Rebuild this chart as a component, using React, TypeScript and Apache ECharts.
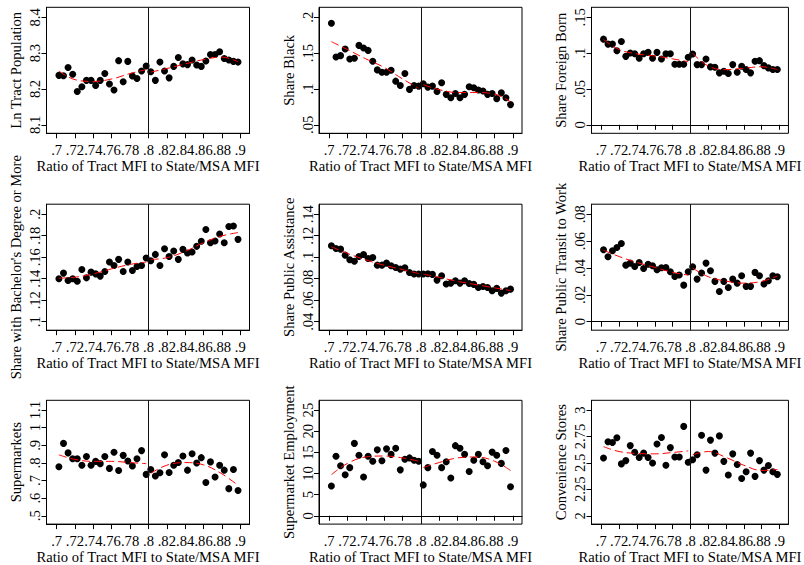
import React, { useEffect, useRef } from "react";
import * as echarts from "echarts";

// Bin centers of the running variable (ratio of tract MFI to State/MSA MFI)
const binCenters = [
  0.7025, 0.7075, 0.7125, 0.7175, 0.7225, 0.7275, 0.7325, 0.7375, 0.7425, 0.7475,
  0.7525, 0.7575, 0.7625, 0.7675, 0.7725, 0.7775, 0.7825, 0.7875, 0.7925, 0.7975,
  0.8025, 0.8075, 0.8125, 0.8175, 0.8225, 0.8275, 0.8325, 0.8375, 0.8425, 0.8475,
  0.8525, 0.8575, 0.8625, 0.8675, 0.8725, 0.8775, 0.8825, 0.8875, 0.8925, 0.8975,
];
const xTicks = [0.7, 0.72, 0.74, 0.76, 0.78, 0.8, 0.82, 0.84, 0.86, 0.88, 0.9];
const cutoff = 0.8;
const fitXLeft = [0.7025, 0.72, 0.74, 0.76, 0.78, 0.7975];
const fitXRight = [0.8025, 0.82, 0.84, 0.86, 0.88, 0.8975];
const xTitle = "Ratio of Tract MFI to State/MSA MFI";

// Panel 1: Ln Tract Population
const lnPop = [8.238, 8.237, 8.26, 8.241, 8.193, 8.206, 8.224, 8.224, 8.21, 8.224, 8.243, 8.214, 8.197, 8.279, 8.22, 8.277, 8.236, 8.229, 8.25, 8.264,
  8.248, 8.224, 8.275, 8.25, 8.231, 8.263, 8.288, 8.27, 8.268, 8.281, 8.267, 8.263, 8.278, 8.296, 8.296, 8.304, 8.285, 8.281, 8.277, 8.275];
const lnPopFitL = [8.25, 8.226, 8.221, 8.228, 8.243, 8.254];
const lnPopFitR = [8.247, 8.257, 8.27, 8.282, 8.289, 8.276];
const lnPopTicks = [8.1, 8.2, 8.3, 8.4];

// Panel 2: Share Black
const shareBlack = [0.1917, 0.1446, 0.1465, 0.1557, 0.1418, 0.1428, 0.1608, 0.1571, 0.1538, 0.1386, 0.1266, 0.1234, 0.1234, 0.1262, 0.1109, 0.1049, 0.1215, 0.0994, 0.1049, 0.104,
  0.1072, 0.1026, 0.104, 0.0966, 0.1086, 0.0925, 0.0878, 0.0938, 0.0878, 0.0925, 0.1031, 0.1017, 0.0985, 0.0971, 0.0925, 0.0938, 0.0865, 0.0948, 0.0878, 0.0782];
const shareBlackFitL = [0.166, 0.155, 0.142, 0.13, 0.114, 0.101];
const shareBlackFitR = [0.106, 0.099, 0.095, 0.095, 0.093, 0.082];
const shareBlackTicks = [0.05, 0.1, 0.15, 0.2];

// Panel 3: Share Foreign Born
const foreignBorn = [0.1195, 0.1126, 0.1126, 0.1034, 0.1163, 0.0955, 0.1002, 0.0992, 0.0928, 0.0992, 0.1011, 0.0928, 0.1011, 0.0918, 0.0992, 0.0992, 0.0845, 0.0845, 0.0845, 0.0942,
  0.0988, 0.084, 0.084, 0.0918, 0.0808, 0.0803, 0.0725, 0.0748, 0.0715, 0.084, 0.0734, 0.0817, 0.0771, 0.0725, 0.0886, 0.0895, 0.0826, 0.0794, 0.0771, 0.0771];
const foreignBornFitL = [0.119, 0.105, 0.099, 0.096, 0.092, 0.088];
const foreignBornFitR = [0.1, 0.082, 0.077, 0.079, 0.081, 0.077];
const foreignBornTicks = [0, 0.05, 0.1, 0.15];

// Panel 4: Share with Bachelor's Degree or More
const bachelor = [0.1399, 0.1452, 0.1383, 0.1399, 0.1377, 0.1486, 0.1408, 0.1461, 0.1445, 0.1424, 0.1467, 0.1555, 0.1523, 0.158, 0.1467, 0.1555, 0.1477, 0.1514, 0.1523, 0.1592,
  0.1567, 0.1626, 0.1523, 0.1679, 0.1607, 0.1657, 0.158, 0.1673, 0.1639, 0.1648, 0.1701, 0.1748, 0.1857, 0.1735, 0.1751, 0.1816, 0.1735, 0.1885, 0.1891, 0.1766];
const bachelorFitL = [0.1405, 0.1414, 0.1445, 0.1492, 0.1533, 0.1555];
const bachelorFitR = [0.1579, 0.1595, 0.1654, 0.1735, 0.1798, 0.1829];
const bachelorTicks = [0.1, 0.12, 0.14, 0.16, 0.18, 0.2];

// Panel 5: Share Public Assistance
const publicAssist = [0.1106, 0.1081, 0.1075, 0.1019, 0.0976, 0.0963, 0.1007, 0.1025, 0.0988, 0.0998, 0.0926, 0.0926, 0.0945, 0.092, 0.0905, 0.0889, 0.0902, 0.0858, 0.0843, 0.0843,
  0.0843, 0.0846, 0.084, 0.0787, 0.0827, 0.075, 0.0759, 0.0781, 0.0759, 0.0781, 0.0756, 0.0747, 0.0719, 0.0728, 0.0719, 0.0688, 0.071, 0.0666, 0.0688, 0.0703];
const publicAssistFitL = [0.1097, 0.1035, 0.0975, 0.0925, 0.0885, 0.0848];
const publicAssistFitR = [0.0843, 0.0812, 0.0775, 0.0745, 0.0715, 0.069];
const publicAssistTicks = [0.04, 0.06, 0.08, 0.1, 0.12, 0.14];

// Panel 6: Share Public Transit to Work
const transit = [0.0535, 0.0483, 0.0528, 0.0552, 0.0582, 0.0421, 0.0436, 0.0411, 0.0441, 0.0396, 0.0428, 0.0416, 0.0386, 0.0401, 0.0404, 0.0372, 0.0337, 0.0347, 0.0272, 0.0372,
  0.0409, 0.0317, 0.0362, 0.0436, 0.0379, 0.03, 0.0225, 0.03, 0.0255, 0.0317, 0.0287, 0.0342, 0.0263, 0.0263, 0.0367, 0.0342, 0.028, 0.0305, 0.0342, 0.0334];
const transitFitL = [0.0532, 0.0485, 0.0441, 0.0404, 0.0367, 0.0347];
const transitFitR = [0.0399, 0.0335, 0.0302, 0.0287, 0.03, 0.034];
const transitTicks = [0, 0.02, 0.04, 0.06, 0.08];

// Panel 7: Supermarkets
const supermarkets = [0.778, 0.911, 0.857, 0.824, 0.824, 0.787, 0.837, 0.787, 0.809, 0.796, 0.837, 0.769, 0.861, 0.757, 0.843, 0.811, 0.783, 0.824, 0.87, 0.735,
  0.763, 0.726, 0.744, 0.846, 0.746, 0.787, 0.802, 0.839, 0.759, 0.852, 0.8, 0.83, 0.689, 0.806, 0.72, 0.787, 0.759, 0.654, 0.763, 0.643];
const supermarketsFitL = [0.846, 0.82, 0.809, 0.809, 0.802, 0.796];
const supermarketsFitR = [0.741, 0.787, 0.802, 0.789, 0.738, 0.672];
const supermarketsTicks = [0.5, 0.6, 0.7, 0.8, 0.9, 1, 1.1];

// Panel 8: Supermarket Employment
const smEmployment = [7.03, 14.07, 11.85, 9.71, 11.39, 17.13, 14.3, 9.17, 14.07, 12.92, 15.6, 13.0, 15.83, 14.53, 15.98, 10.86, 13.38, 13.69, 13.15, 12.92,
  7.3, 11.39, 15.21, 14.3, 11.39, 12.77, 8.94, 16.59, 15.98, 14.53, 10.47, 13.15, 14.53, 12.77, 11.85, 15.06, 14.3, 12.39, 15.44, 6.88];
const smEmploymentFitL = [9.71, 12.39, 13.91, 14.14, 13.69, 12.92];
const smEmploymentFitR = [11.39, 12.61, 13.69, 13.91, 12.92, 10.7];
const smEmploymentTicks = [0, 5, 10, 15, 20, 25];

// Panel 9: Convenience Stores
const convenience = [2.546, 2.701, 2.694, 2.738, 2.491, 2.522, 2.664, 2.602, 2.552, 2.593, 2.552, 2.5, 2.679, 2.741, 2.478, 2.645, 2.556, 2.556, 2.846, 2.506,
  2.531, 2.577, 2.762, 2.432, 2.716, 2.593, 2.756, 2.515, 2.386, 2.586, 2.485, 2.352, 2.417, 2.593, 2.373, 2.522, 2.432, 2.475, 2.417, 2.392];
const convenienceFitL = [2.654, 2.608, 2.59, 2.586, 2.599, 2.614];
const convenienceFitR = [2.577, 2.608, 2.552, 2.478, 2.429, 2.438];
const convenienceTicks = [2, 2.25, 2.5, 2.75, 3];

const panels = [
  { title: "Ln Tract Population", values: lnPop, fitL: lnPopFitL, fitR: lnPopFitR, ticks: lnPopTicks },
  { title: "Share Black", values: shareBlack, fitL: shareBlackFitL, fitR: shareBlackFitR, ticks: shareBlackTicks },
  { title: "Share Foreign Born", values: foreignBorn, fitL: foreignBornFitL, fitR: foreignBornFitR, ticks: foreignBornTicks },
  { title: "Share with Bachelor's Degree or More", values: bachelor, fitL: bachelorFitL, fitR: bachelorFitR, ticks: bachelorTicks },
  { title: "Share Public Assistance", values: publicAssist, fitL: publicAssistFitL, fitR: publicAssistFitR, ticks: publicAssistTicks },
  { title: "Share Public Transit to Work", values: transit, fitL: transitFitL, fitR: transitFitR, ticks: transitTicks },
  { title: "Supermarkets", values: supermarkets, fitL: supermarketsFitL, fitR: supermarketsFitR, ticks: supermarketsTicks },
  { title: "Supermarket Employment", values: smEmployment, fitL: smEmploymentFitL, fitR: smEmploymentFitR, ticks: smEmploymentTicks },
  { title: "Convenience Stores", values: convenience, fitL: convenienceFitL, fitR: convenienceFitR, ticks: convenienceTicks },
];

const FONT = "Liberation Serif";
const FS = 14.6;
const colLeft = [46.5, 319, 591.5];
const rowTop = [7.3, 204.2, 400.3];
const gridW = 203;
const gridH = 126;

const fmt = (v: number) => {
  let s = String(parseFloat(v.toFixed(4)));
  if (s.startsWith("0.")) s = s.slice(1);
  else if (s.startsWith("-0.")) s = "-" + s.slice(2);
  return s;
};

function buildOption() {
  const grid: any[] = [];
  const xAxis: any[] = [];
  const yAxis: any[] = [];
  const series: any[] = [];
  panels.forEach((p, i) => {
    const col = i % 3;
    const row = Math.floor(i / 3);
    grid.push({
      left: colLeft[col], top: rowTop[row], width: gridW, height: gridH,
      show: true, borderColor: "#000", borderWidth: 1, backgroundColor: "#fff",
    });
    const lo = p.ticks[0];
    const hi = p.ticks[p.ticks.length - 1];
    const span = hi - lo;
    const ymin = lo - span * 0.079;
    const ymax = hi + span * 0.093;
    xAxis.push({
      gridIndex: i, type: "value", min: 0.689, max: 0.91,
      axisLine: { show: true, lineStyle: { color: "#000", width: 1 } },
      splitLine: { show: false },
      axisTick: { show: true, length: 5, inside: false, customValues: xTicks, lineStyle: { color: "#000", width: 1 } },
      axisLabel: { customValues: xTicks, formatter: fmt, fontFamily: FONT, fontSize: FS, color: "#000", margin: 9 },
      name: xTitle, nameLocation: "middle", nameGap: 24,
      nameTextStyle: { fontFamily: FONT, fontSize: FS, color: "#000" },
    });
    yAxis.push({
      gridIndex: i, type: "value", min: ymin, max: ymax,
      axisLine: { show: true, lineStyle: { color: "#000", width: 1 } },
      splitLine: { show: false },
      axisTick: { show: true, length: 5, inside: false, customValues: p.ticks, lineStyle: { color: "#000", width: 1 } },
      axisLabel: { customValues: p.ticks, formatter: fmt, rotate: 90, fontFamily: FONT, fontSize: FS, color: "#000", margin: 4 },
      name: p.title, nameLocation: "middle", nameGap: 23, nameRotate: 90,
      nameTextStyle: { fontFamily: FONT, fontSize: FS, color: "#000" },
    });
    series.push({
      type: "scatter", xAxisIndex: i, yAxisIndex: i,
      data: binCenters.map((x, k) => [x, p.values[k]]),
      symbol: "circle", symbolSize: 7,
      itemStyle: { color: "#000", opacity: 1 },
      markLine: {
        silent: true, symbol: "none", label: { show: false },
        lineStyle: { color: "#111", width: 1, type: "solid", opacity: 1 },
        data: [{ xAxis: cutoff }],
      },
      z: 2,
    });
    [[fitXLeft, p.fitL], [fitXRight, p.fitR]].forEach(([xs, ys]) => {
      series.push({
        type: "line", xAxisIndex: i, yAxisIndex: i,
        data: (xs as number[]).map((x, k) => [x, (ys as number[])[k]]),
        smooth: 0.4, showSymbol: false, symbol: "none",
        lineStyle: { color: "#ff0000", width: 1, type: [8, 4] },
        z: 3,
      });
    });
  });
  return { animation: false, backgroundColor: "#fff", grid, xAxis, yAxis, series };
}

export default function App() {
  const ref = useRef<HTMLDivElement>(null);
  useEffect(() => {
    if (!ref.current) return;
    const chart = echarts.init(ref.current, undefined, { renderer: "svg" });
    chart.setOption(buildOption() as any);
    return () => chart.dispose();
  }, []);
  return (
    <div
      ref={ref}
      style={{ position: "absolute", left: 0, top: 0, width: 804, height: 565, background: "#fff" }}
    />
  );
}
